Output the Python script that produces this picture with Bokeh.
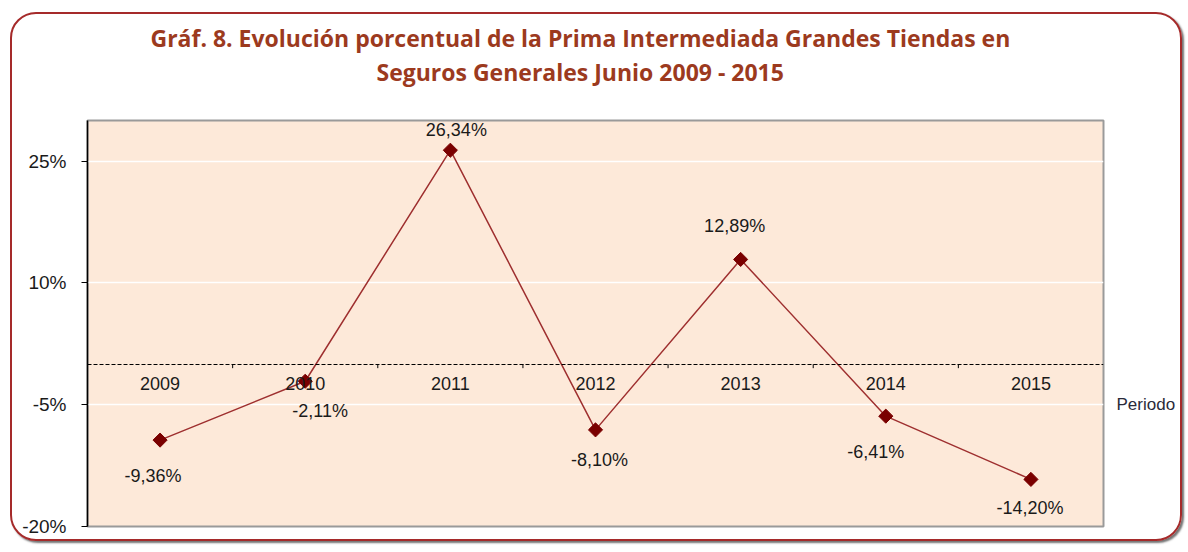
import math
from bokeh.plotting import figure
from bokeh.models import (ColumnDataSource, FixedTicker, PrintfTickFormatter, Title,
                          LinearAxis)
from bokeh.transform import dodge
from bokeh.core.properties import value
from bokeh.embed import file_html
from bokeh.resources import INLINE

# ---- data ----
years = ["2009", "2010", "2011", "2012", "2013", "2014", "2015"]
growth = [-9.36, -2.11, 26.34, -8.10, 12.89, -6.41, -14.20]
labels = ["-9,36%", "-2,11%", "26,34%", "-8,10%", "12,89%", "-6,41%", "-14,20%"]
y_ticks = [-20, -5, 10, 25]
title_lines = ["Gráf. 8. Evolución porcentual de la Prima Intermediada Grandes Tiendas en",
               "Seguros Generales Junio 2009  - 2015"]
x_title = "Periodo"

# label offsets in pixels (layout only)
label_dx = [-7, 15, 6, 4, -6, -10, -1]
label_dy = [36, 30, -20, 30, -33, 36, 29]

src = ColumnDataSource(dict(x=years, y=growth, t=labels, dx=label_dx, dy=label_dy))

FONT = "Liberation Sans"
W, H = 1172, 529
p = figure(x_range=years, y_range=(-20, 30), width=W, height=H,
           output_backend="svg", toolbar_location=None,
           min_border_left=75, min_border_right=81, min_border_top=106, min_border_bottom=17)
p.styles = {"margin-left": "10px", "margin-top": "12px",
            "border": "2px solid #A52A2A", "border-radius": "26px",
            "overflow": "hidden", "box-shadow": "2px 2px 2px rgba(0,0,0,0.55)"}

p.background_fill_color = "#FDE9D9"
p.border_fill_color = None
p.outline_line_color = "#9a9a9a"
p.outline_line_width = 2

# grid
p.xgrid.grid_line_color = None
p.ygrid.grid_line_color = "white"
p.ygrid.grid_line_width = 1.5
p.ygrid.ticker = FixedTicker(ticks=y_ticks)

# y axis
p.yaxis.ticker = FixedTicker(ticks=y_ticks)
p.yaxis.formatter = PrintfTickFormatter(format="%d%%")
p.yaxis.major_label_text_font = FONT
p.yaxis.major_label_text_font_size = "19px"
p.yaxis.major_label_text_color = "#1a1a1a"
p.yaxis.axis_line_color = "black"
p.yaxis.axis_line_width = 1.5
p.yaxis.major_tick_in = 0
p.yaxis.major_tick_out = 6
p.yaxis.major_tick_line_color = "black"
p.yaxis.minor_tick_line_color = None
p.yaxis.major_label_standoff = 15

# x axis at zero
p.xaxis.fixed_location = 0
p.xaxis.axis_line_dash = "4 2"
p.xaxis.axis_line_color = "black"
p.xaxis.axis_line_width = 1
p.xaxis.major_tick_line_color = None
p.xaxis.major_label_text_font = FONT
p.xaxis.major_label_text_font_size = "18px"
p.xaxis.major_label_text_color = "#1a1a1a"
p.xaxis.major_label_standoff = 7

# "Periodo" label on the right side, at the -5% level
p.add_layout(LinearAxis(ticker=FixedTicker(ticks=[-5]),
                        major_label_overrides={-5: x_title},
                        axis_line_color=None, major_tick_line_color=None,
                        minor_tick_line_color=None, major_label_standoff=7,
                        major_label_text_font=FONT, major_label_text_font_size="17px",
                        major_label_text_color="#2a2a3a"), "right")

# category boundary ticks
tick_src = ColumnDataSource(dict(x=years[1:], y0=[0] * (len(years) - 1), y1=[-0.5] * (len(years) - 1)))
p.segment(x0=dodge("x", -0.5, range=p.x_range), x1=dodge("x", -0.5, range=p.x_range),
          y0="y0", y1="y1", source=tick_src, line_color="black", line_width=1)

# line + markers
p.line("x", "y", source=src, line_color="#9E2F2F", line_width=1.5)
p.scatter("x", "y", source=src, marker="square", angle=math.pi / 4, size=10,
          fill_color="#7A0000", line_color="#7A0000")

# data labels
p.text("x", "y", text="t", source=src, x_offset="dx", y_offset="dy",
       text_align="center", text_baseline="middle", text_font=value(FONT),
       text_font_size="18px", text_color="#1a1a1a")

# titles: spacer nearest the plot, then second line, then first line
TITLE_FONT = "Open Sans"
p.add_layout(Title(text=" ", text_font_size="10px", standoff=20), "above")
p.add_layout(Title(text=title_lines[1], align="left", offset=289, text_font=TITLE_FONT,
                   text_font_style="bold", text_font_size="23px",
                   text_color="#9C3A1E", standoff=0), "above")
p.add_layout(Title(text=title_lines[0], align="left", offset=63, text_font=TITLE_FONT,
                   text_font_style="bold", text_font_size="23px",
                   text_color="#9C3A1E", standoff=0), "above")

open("out.html", "w").write(file_html(p, INLINE))
